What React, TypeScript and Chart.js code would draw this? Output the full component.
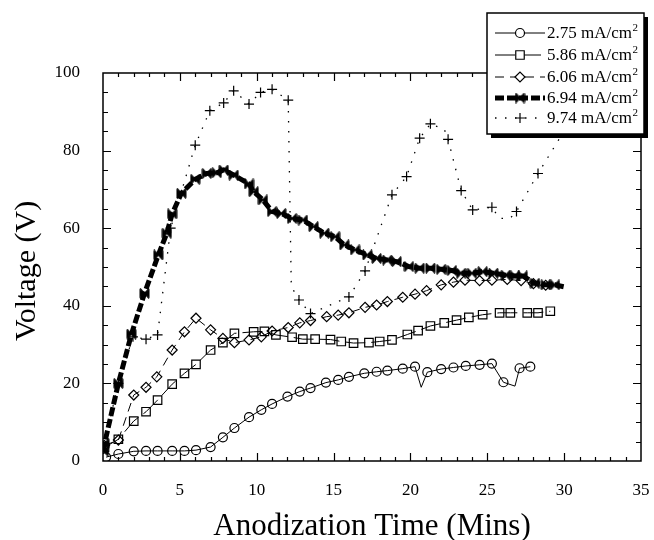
import React, { useEffect, useRef } from 'react';
import { Chart, registerables } from 'chart.js';
import { drawPoint } from 'chart.js/helpers';

Chart.register(...registerables);

const FONT = "'Liberation Serif', 'Times New Roman', serif";

// ---- data ----
const xTicksStep = 5;
const yTicksStep = 20;
const xMax = 35;
const yMax = 100;

const seriesNames = ['2.75 mA/cm', '5.86 mA/cm', '6.06 mA/cm', '6.94 mA/cm', '9.74 mA/cm'];

const t275 = [0.2, 1.0, 2.0, 2.8, 3.55, 4.5, 5.3, 6.05, 7.0, 7.8, 8.55, 9.5, 10.3, 11.0, 12.0, 12.8, 13.5, 14.5, 15.3, 16.0, 17.0, 17.8, 18.5, 19.5, 20.3, 20.7, 21.1, 22.0, 22.8, 23.6, 24.5, 25.3, 26.05, 26.8, 27.1, 27.8];
const v275 = [1.0, 1.8, 2.5, 2.6, 2.6, 2.6, 2.6, 2.8, 3.6, 6.1, 8.5, 11.3, 13.2, 14.7, 16.6, 17.9, 18.8, 20.2, 20.9, 21.7, 22.6, 23.0, 23.3, 23.8, 24.3, 19.0, 22.9, 23.7, 24.1, 24.5, 24.8, 25.1, 20.3, 19.3, 23.9, 24.3];
const noMark275 = [25, 33];

const t586 = [0.1, 1.0, 2.0, 2.8, 3.55, 4.5, 5.3, 6.05, 7.0, 7.8, 8.55, 9.8, 10.5, 11.25, 12.3, 13.0, 13.8, 14.8, 15.5, 16.3, 17.3, 18.0, 18.8, 19.8, 20.5, 21.3, 22.2, 23.0, 23.8, 24.7, 25.8, 26.5, 27.6, 28.3, 29.1];
const v586 = [3.5, 5.6, 10.3, 12.7, 15.7, 19.8, 22.6, 24.9, 28.6, 30.5, 32.9, 33.3, 33.4, 32.5, 31.9, 31.4, 31.4, 31.3, 30.8, 30.4, 30.5, 30.8, 31.2, 32.6, 33.6, 34.8, 35.6, 36.3, 37.0, 37.7, 38.2, 38.2, 38.2, 38.2, 38.6];
const noMark586: number[] = [];

const t606 = [0.1, 1.0, 2.0, 2.8, 3.5, 4.5, 5.3, 6.05, 7.0, 7.8, 8.55, 9.5, 10.3, 11.0, 12.05, 12.8, 13.5, 14.55, 15.3, 16.0, 17.05, 17.8, 18.5, 19.5, 20.3, 21.05, 22.0, 22.8, 23.55, 24.5, 25.3, 26.3, 27.2, 28.0, 28.8];
const v606 = [4.0, 5.4, 17.0, 19.0, 21.7, 28.6, 33.3, 36.8, 33.8, 31.6, 30.5, 31.2, 32.0, 33.5, 34.4, 35.6, 36.2, 37.2, 37.6, 38.2, 39.6, 40.2, 41.1, 42.2, 43.0, 43.9, 45.4, 46.1, 46.6, 46.5, 46.6, 46.8, 46.5, 45.7, 45.3];
const noMark606: number[] = [];

const t694 = [0.05, 0.1, 1.0, 1.85, 2.7, 3.6, 4.15, 4.5, 5.1, 6.0, 6.75, 7.4, 7.85, 8.5, 9.5, 9.8, 10.4, 11.0, 11.6, 12.3, 13.0, 13.7, 14.4, 15.1, 15.7, 16.4, 17.2, 17.8, 18.5, 19.1, 19.9, 20.6, 21.3, 22.0, 22.7, 23.3, 24.0, 24.7, 25.4, 26.2, 26.8, 27.3, 28.1, 28.8, 29.4, 30.0];
const v694 = [2.5, 4.5, 20.0, 32.7, 43.2, 53.1, 58.7, 63.7, 69.0, 72.6, 74.1, 74.3, 75.0, 73.7, 71.4, 69.4, 67.3, 64.3, 63.8, 62.5, 62.1, 60.4, 58.7, 57.8, 55.7, 54.4, 53.1, 52.2, 51.8, 51.4, 50.1, 49.7, 49.7, 49.4, 49.1, 48.4, 48.4, 48.8, 48.4, 47.9, 47.7, 47.7, 45.8, 45.4, 45.4, 44.9];
const noMark694 = [45];

const t974 = [0.05, 1.0, 1.95, 2.8, 3.55, 4.4, 6.0, 6.95, 7.85, 8.5, 9.5, 10.25, 11.0, 12.05, 12.25, 12.75, 13.5, 16.0, 17.05, 18.8, 19.75, 20.6, 21.3, 22.2, 22.45, 23.3, 24.05, 25.3, 25.8, 26.5, 26.9, 28.3, 30.3];
const v974 = [4.0, 20.0, 32.0, 31.4, 32.5, 60.0, 81.4, 90.3, 92.3, 95.4, 92.0, 95.0, 95.8, 93.0, 45.0, 41.5, 38.0, 42.3, 49.0, 68.6, 73.3, 83.2, 86.9, 85.5, 82.9, 69.7, 64.7, 65.4, 62.5, 62.6, 64.3, 74.1, 87.0];
const noMark974 = [14, 23, 28, 29];

function makeBowtie(): HTMLCanvasElement {
  const c = document.createElement('canvas');
  c.width = 11;
  c.height = 11;
  const g = c.getContext('2d')!;
  g.fillStyle = '#000';
  g.beginPath();
  g.moveTo(0.5, 1);
  g.lineTo(0.5, 10);
  g.lineTo(5.5, 5.5);
  g.closePath();
  g.moveTo(10.5, 1);
  g.lineTo(10.5, 10);
  g.lineTo(5.5, 5.5);
  g.closePath();
  g.fill();
  g.strokeStyle = '#000';
  g.lineWidth = 1.2;
  g.beginPath();
  g.moveTo(1, 0.5);
  g.lineTo(10, 10.5);
  g.moveTo(10, 0.5);
  g.lineTo(1, 10.5);
  g.stroke();
  return c;
}

const framePlugin = {
  id: 'frameTicks',
  beforeDatasetsDraw(chart: any) {
    const { ctx, chartArea: a, scales } = chart;
    const xs = scales.x;
    const ys = scales.y;
    ctx.save();
    ctx.strokeStyle = '#000';
    ctx.lineWidth = 1.5;
    ctx.strokeRect(a.left, a.top, a.right - a.left, a.bottom - a.top);
    ctx.lineWidth = 1.2;
    ctx.beginPath();
    for (let v = 1; v < xMax; v++) {
      const px = Math.round(xs.getPixelForValue(v)) + 0.5;
      const len = v % xTicksStep === 0 ? 8 : 4;
      ctx.moveTo(px, a.bottom);
      ctx.lineTo(px, a.bottom - len);
      ctx.moveTo(px, a.top);
      ctx.lineTo(px, a.top + len);
    }
    for (let v = 5; v < yMax; v += 5) {
      const py = Math.round(ys.getPixelForValue(v)) + 0.5;
      const len = v % yTicksStep === 0 ? 8 : 5;
      ctx.moveTo(a.left, py);
      ctx.lineTo(a.left + len, py);
      ctx.moveTo(a.right, py);
      ctx.lineTo(a.right - len, py);
    }
    ctx.stroke();
    ctx.restore();
  },
  afterDraw(chart: any) {
    const { ctx, chartArea: a } = chart;
    ctx.save();
    ctx.fillStyle = '#000';
    // axis titles
    ctx.font = `31px ${FONT}`;
    ctx.textAlign = 'center';
    ctx.textBaseline = 'alphabetic';
    ctx.fillText('Anodization Time (Mins)', (a.left + a.right) / 2, 535);
    ctx.save();
    ctx.translate(35, (a.top + a.bottom) / 2 + 4);
    ctx.rotate(-Math.PI / 2);
    ctx.font = `30px ${FONT}`;
    ctx.fillText('Voltage (V)', 0, 0);
    ctx.restore();

    // legend box
    const bx = 487, by = 13, bw = 157, bh = 121;
    ctx.fillStyle = '#000';
    ctx.fillRect(bx + 4, by + 4, bw, bh);
    ctx.fillStyle = '#fff';
    ctx.fillRect(bx, by, bw, bh);
    ctx.strokeStyle = '#000';
    ctx.lineWidth = 1.5;
    ctx.strokeRect(bx, by, bw, bh);

    const rows = [33, 55, 77, 98, 118];
    chart.data.datasets.forEach((ds: any, i: number) => {
      const y = rows[i];
      ctx.save();
      ctx.strokeStyle = '#000';
      ctx.lineWidth = ds.borderWidth;
      ctx.setLineDash(ds.borderDash || []);
      ctx.beginPath();
      ctx.moveTo(495, y);
      ctx.lineTo(545, y);
      ctx.stroke();
      ctx.setLineDash([]);
      ctx.lineWidth = ds.pointBorderWidth;
      ctx.fillStyle = '#fff';
      drawPoint(ctx, { pointStyle: ds.pointStyle, radius: ds.legendRadius, rotation: 0, borderWidth: ds.pointBorderWidth }, 520, y);
      ctx.restore();
      ctx.fillStyle = '#000';
      ctx.textAlign = 'left';
      ctx.textBaseline = 'middle';
      ctx.font = `17px ${FONT}`;
      ctx.fillText(ds.label, 547, y + 1);
      const w = ctx.measureText(ds.label).width;
      ctx.font = `11px ${FONT}`;
      ctx.fillText('2', 547 + w + 0.5, y - 5);
    });
    ctx.restore();
  },
};

function pts(t: number[], v: number[]) {
  return t.map((x, i) => ({ x, y: v[i] }));
}

export default function App() {
  const ref = useRef<HTMLCanvasElement>(null);
  useEffect(() => {
    document.body.style.margin = '0';
    const bowtie = makeBowtie();
    const radiusFn = (hidden: number[], r: number) => (c: any) => (hidden.includes(c.dataIndex) ? 0 : r);
    const chart = new Chart(ref.current!, {
      type: 'line',
      data: {
        datasets: [
          {
            label: seriesNames[0], data: pts(t275, v275), borderColor: '#000', borderWidth: 1, borderDash: [],
            pointStyle: 'circle', pointRadius: radiusFn(noMark275, 4.5), legendRadius: 4.5,
            pointBorderWidth: 1.2, pointBorderColor: '#000', pointBackgroundColor: 'rgba(0,0,0,0)',
          } as any,
          {
            label: seriesNames[1], data: pts(t586, v586), borderColor: '#000', borderWidth: 1, borderDash: [20, 6],
            pointStyle: 'rect', pointRadius: radiusFn(noMark586, 6), legendRadius: 6,
            pointBorderWidth: 1.2, pointBorderColor: '#000', pointBackgroundColor: 'rgba(0,0,0,0)',
          } as any,
          {
            label: seriesNames[2], data: pts(t606, v606), borderColor: '#000', borderWidth: 1, borderDash: [9, 6],
            pointStyle: 'rectRot', pointRadius: radiusFn(noMark606, 5), legendRadius: 5,
            pointBorderWidth: 1.2, pointBorderColor: '#000', pointBackgroundColor: 'rgba(0,0,0,0)',
          } as any,
          {
            label: seriesNames[3], data: pts(t694, v694), borderColor: '#000', borderWidth: 5, borderDash: [9, 3],
            pointStyle: bowtie, pointRadius: radiusFn(noMark694, 5), legendRadius: 5,
            pointBorderWidth: 1, pointBorderColor: '#000', pointBackgroundColor: '#000',
          } as any,
          {
            label: seriesNames[4], data: pts(t974, v974), borderColor: '#000', borderWidth: 1.3, borderDash: [1.5, 8.5],
            pointStyle: 'cross', pointRadius: radiusFn(noMark974, 5), legendRadius: 5,
            pointBorderWidth: 1.2, pointBorderColor: '#000', pointBackgroundColor: 'rgba(0,0,0,0)',
          } as any,
        ],
      },
      options: {
        responsive: false,
        maintainAspectRatio: false,
        animation: false,
        layout: { padding: { left: 0, right: 13, top: 73, bottom: 0 } },
        plugins: { legend: { display: false }, tooltip: { enabled: false } },
        elements: { line: { tension: 0 } },
        scales: {
          x: {
            type: 'linear', min: 0, max: xMax,
            grid: { display: false }, border: { display: false },
            ticks: { stepSize: xTicksStep, color: '#000', font: { family: FONT, size: 17 }, padding: 11, maxRotation: 0 },
            afterFit: (s: any) => { s.height = 79; s.paddingRight = 0; s.paddingLeft = 0; },
          },
          y: {
            type: 'linear', min: 0, max: yMax,
            grid: { display: false }, border: { display: false },
            ticks: { stepSize: yTicksStep, color: '#000', font: { family: FONT, size: 17 }, padding: 15 },
            afterFit: (s: any) => { s.width = 103; s.paddingTop = 0; s.paddingBottom = 0; },
          },
        },
      } as any,
      plugins: [framePlugin],
    });
    return () => chart.destroy();
  }, []);
  return <canvas ref={ref} width={654} height={540} style={{ display: 'block' }} />;
}
